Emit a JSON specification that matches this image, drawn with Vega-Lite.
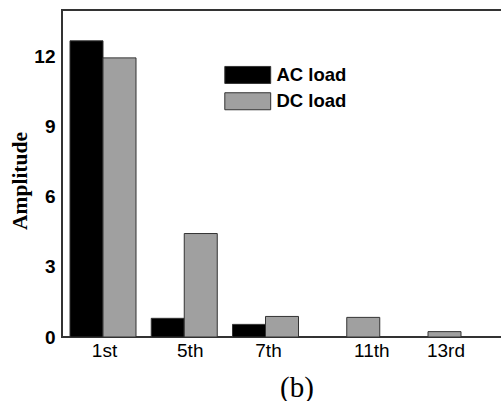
{
  "$schema": "https://vega.github.io/schema/vega-lite/v6.json",
  "width": 447,
  "height": 327,
  "autosize": "none",
  "padding": {"left": 62, "top": 10, "right": 0, "bottom": 64},
  "background": "white",
  "data": {
    "values": [
      {"harmonic": "1st", "load": "AC load", "amplitude": 12.68},
      {"harmonic": "1st", "load": "DC load", "amplitude": 11.95},
      {"harmonic": "5th", "load": "AC load", "amplitude": 0.8},
      {"harmonic": "5th", "load": "DC load", "amplitude": 4.43},
      {"harmonic": "7th", "load": "AC load", "amplitude": 0.54},
      {"harmonic": "7th", "load": "DC load", "amplitude": 0.88},
      {"harmonic": "11th", "load": "AC load", "amplitude": 0},
      {"harmonic": "11th", "load": "DC load", "amplitude": 0.84},
      {"harmonic": "13rd", "load": "AC load", "amplitude": 0},
      {"harmonic": "13rd", "load": "DC load", "amplitude": 0.23}
    ]
  },
  "mark": {"type": "bar", "stroke": "#333333", "strokeWidth": 1},
  "encoding": {
    "x": {
      "field": "harmonic",
      "type": "nominal",
      "sort": ["1st", "5th", "7th", "11th", "13rd"],
      "scale": {"paddingInner": 0.1877, "paddingOuter": 0.3446, "align": 0.1429},
      "axis": {
        "title": "(b)",
        "titleFont": "Liberation Serif",
        "titleFontWeight": "normal",
        "titleFontSize": 29,
        "titleColor": "black",
        "titleX": 234.5,
        "titleY": 50,
        "titleBaseline": "middle",
        "titleAlign": "center",
        "labelFont": "Liberation Sans",
        "labelFontSize": 19,
        "labelColor": "black",
        "labelAngle": 0,
        "labelPadding": 4,
        "labelOffset": {
          "condition": [
            {"test": "datum.value === '5th'", "value": 6},
            {"test": "datum.value === '7th'", "value": 3},
            {"test": "datum.value === '11th'", "value": 25},
            {"test": "datum.value === '13rd'", "value": 18}
          ],
          "value": 1.5
        },
        "ticks": false,
        "domain": false,
        "grid": false
      }
    },
    "xOffset": {
      "field": "load",
      "type": "nominal",
      "scale": {"paddingInner": 0, "paddingOuter": 0}
    },
    "y": {
      "field": "amplitude",
      "type": "quantitative",
      "scale": {"domain": [0, 14], "nice": false},
      "axis": {
        "title": "Amplitude",
        "titleFont": "Liberation Serif",
        "titleFontWeight": "bold",
        "titleFontSize": 21.5,
        "titleColor": "black",
        "titleX": -42,
        "titleY": 170.5,
        "titleAngle": -90,
        "titleBaseline": "middle",
        "titleAlign": "center",
        "values": [0, 3, 6, 9, 12],
        "labelFont": "Liberation Sans",
        "labelFontWeight": "bold",
        "labelFontSize": 19,
        "labelColor": "black",
        "labelPadding": 7,
        "ticks": false,
        "domain": false,
        "grid": false
      }
    },
    "fill": {
      "field": "load",
      "type": "nominal",
      "scale": {"domain": ["AC load", "DC load"], "range": ["#000000", "#a0a0a0"]},
      "legend": {
        "orient": "none",
        "legendX": 176.5,
        "legendY": 55.7,
        "title": null,
        "padding": 0,
        "symbolType": "M-2.7,-1H2.7V1H-2.7Z",
        "symbolSize": 289,
        "symbolStrokeColor": "#333333",
        "symbolStrokeWidth": 1,
        "labelFont": "Liberation Sans",
        "labelFontWeight": "bold",
        "labelFontSize": 18.5,
        "labelColor": "black",
        "labelOffset": 19.5,
        "rowPadding": 4.3
      }
    }
  },
  "config": {"view": {"stroke": "#333333", "strokeWidth": 2}}
}
